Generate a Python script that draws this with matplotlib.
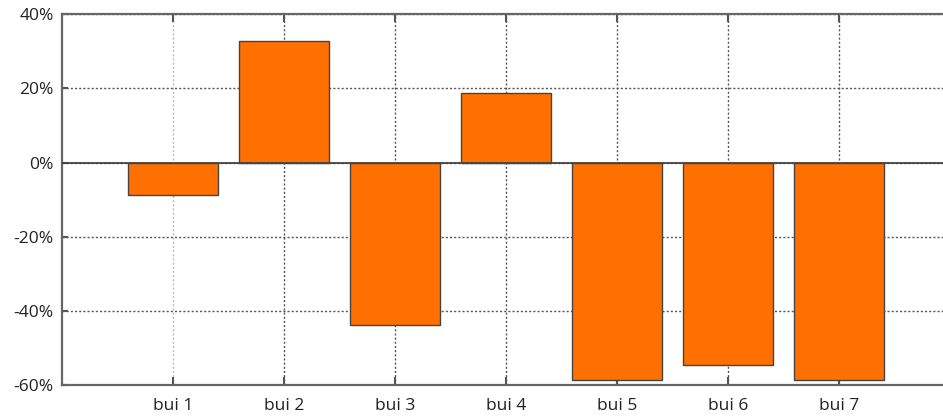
import matplotlib.pyplot as plt
from matplotlib.ticker import FuncFormatter

categories = ["bui 1", "bui 2", "bui 3", "bui 4", "bui 5", "bui 6", "bui 7"]
values = [-8.8, 32.8, -43.8, 18.8, -58.6, -54.6, -58.6]
y_ticks = [-60, -40, -20, 0, 20, 40]

plt.rcParams["font.family"] = ["Open Sans", "DejaVu Sans"]

fig = plt.figure(figsize=(9.43, 4.18), dpi=100)
ax = fig.add_axes([0.0657, 0.0778, 888 / 943, 0.8887])

x = list(range(1, len(categories) + 1))
ax.bar(x, values, width=0.81, color="#ff7000", edgecolor="#444444", linewidth=1, zorder=3)
ax.axhline(0, color="#444444", linewidth=1.3, zorder=4)

ax.set_xlim(0, 8)
ax.set_ylim(-60, 40)
ax.set_xticks(x)
ax.set_xticklabels(categories)
ax.set_yticks(y_ticks)
ax.yaxis.set_major_formatter(FuncFormatter(lambda v, p: f"{v:.0f}%"))

ax.grid(True, color="#555555", linestyle=(0, (1.5, 1.5)), linewidth=1, zorder=0)
ax.xaxis.get_gridlines()[0].set_color("#bbbbbb")
ax.tick_params(axis="x", direction="in", top=True, length=6, width=1.5, color="#555555",
               labelsize=12.5, labelcolor="#222222", pad=9)
ax.tick_params(axis="y", direction="in", length=4, width=1.5, color="#555555",
               labelsize=12.5, labelcolor="#222222", pad=6)
for s in ax.spines.values():
    s.set_color("#666666")
    s.set_linewidth(1.6)

fig.savefig("out.png", dpi=100)
